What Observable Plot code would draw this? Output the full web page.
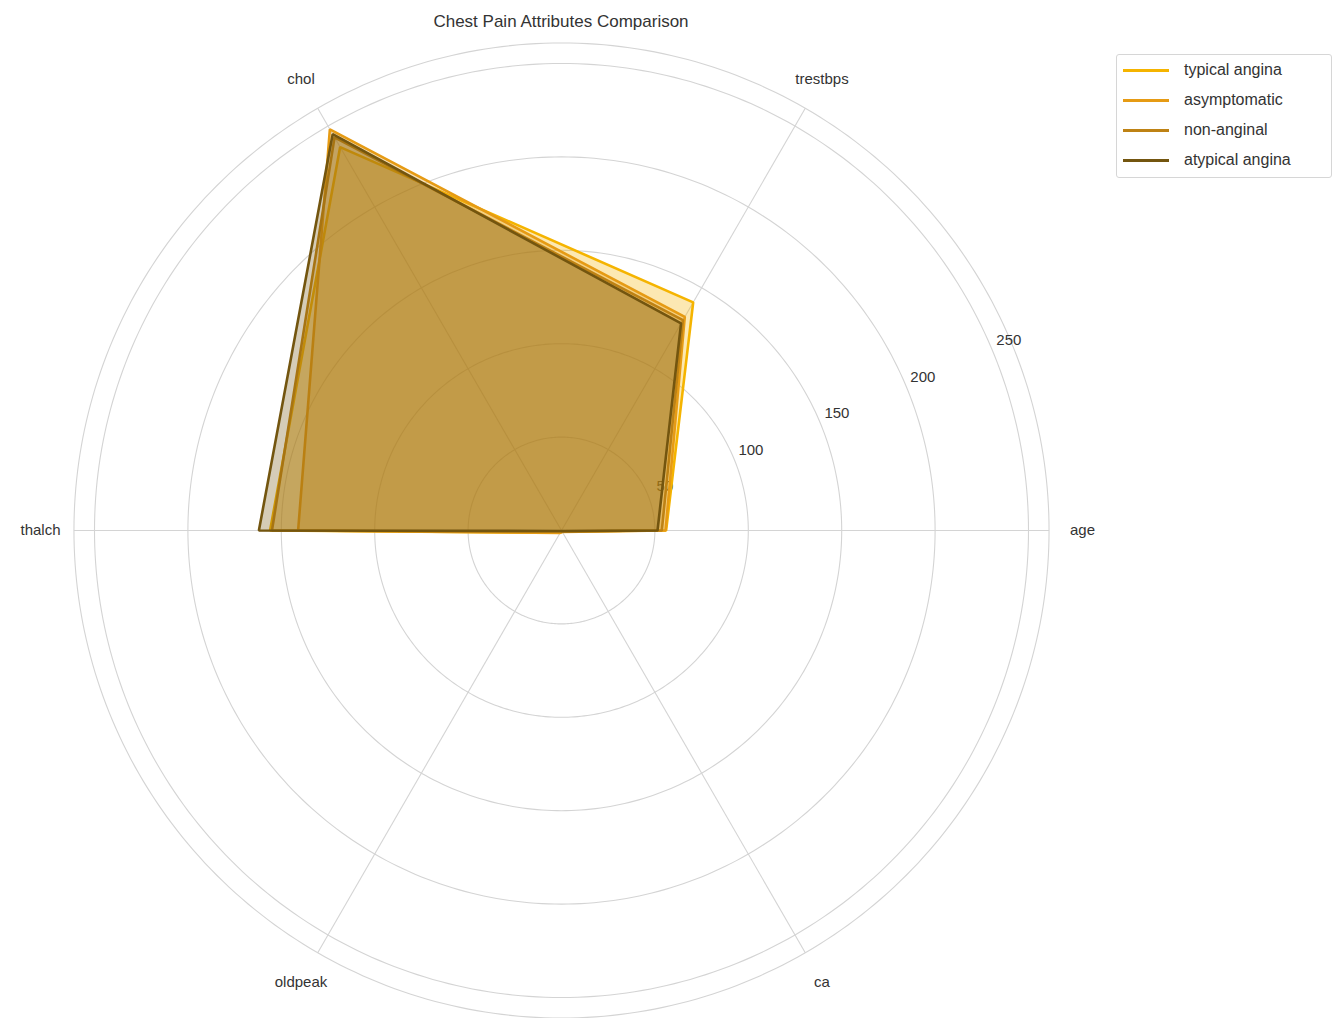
<!DOCTYPE html>
<html>
<head>
<meta charset="utf-8">
<script src="https://cdn.jsdelivr.net/npm/d3@7"></script>
<script src="https://cdn.jsdelivr.net/npm/@observablehq/plot@0.6"></script>
<style>
  html, body { margin: 0; padding: 0; background: #fff; }
  body { width: 1343px; height: 1018px; position: relative; overflow: hidden;
         font-family: "Liberation Sans", Arial, sans-serif; }
  #chart { position: absolute; left: 0; top: 0; }
  #title { position: absolute; left: 0; width: 1122px; top: 12px; text-align: center;
           font-size: 17px; color: #333; }
  #legend { position: absolute; left: 1116px; top: 54px; width: 216px; height: 124px;
            border: 1px solid #d6d6d6; border-radius: 3px; background: #fff; box-sizing: border-box; }
  .item { position: absolute; left: 6px; height: 20px; display: flex; align-items: center; }
  .swatch { width: 46px; height: 3px; margin-right: 15px; }
  .label { font-size: 16px; color: #333; }
</style>
</head>
<body>
<div id="chart"></div>
<div id="title">Chest Pain Attributes Comparison</div>
<div id="legend"></div>
<script>
// ---- data ----
const categories = ["age", "trestbps", "chol", "thalch", "oldpeak", "ca"];
const seriesNames = ["typical angina", "asymptomatic", "non-anginal", "atypical angina"];
const typicalAngina  = [56.0, 141, 237, 156, 1.4, 0.6];
const asymptomatic   = [55.7, 132, 248, 141, 1.5, 0.9];
const nonAnginal     = [53.7, 130, 243, 155, 0.8, 0.5];
const atypicalAngina = [51.4, 128, 245, 162, 0.3, 0.4];
const seriesValues = [typicalAngina, asymptomatic, nonAnginal, atypicalAngina];
const seriesColors = ["#f5b400", "#e69b14", "#be8214", "#73550f"];
const ringTicks = [50, 100, 150, 200, 250];
const rMax = 261;

// ---- geometry ----
const W = 1343, H = 1018, cx = 561, cy = 530;
const k = 1.868; // px per unit
const ang = i => i * Math.PI / 3;

const polyData = [];
seriesNames.forEach((name, s) => {
  categories.forEach((c, i) => {
    const v = seriesValues[s][i];
    polyData.push({series: name, cat: c, x: v * Math.cos(ang(i)), y: v * Math.sin(ang(i))});
  });
});

const ringData = [];
[...ringTicks, rMax].forEach(r => {
  for (let d = 0; d <= 360; d += 1) {
    const a = d * Math.PI / 180;
    ringData.push({ring: r, x: r * Math.cos(a), y: r * Math.sin(a)});
  }
});

const spokes = categories.map((c, i) => ({cat: c, x2: rMax * Math.cos(ang(i)), y2: rMax * Math.sin(ang(i))}));
const labelR = 521 / k;
const catLabels = categories.map((c, i) => ({cat: c, x: labelR * Math.cos(ang(i)), y: labelR * Math.sin(ang(i))}));
const tickA = 23 * Math.PI / 180;
const tickLabels = ringTicks.map(r => ({t: String(r), x: (r + 19 / k) * Math.cos(tickA), y: (r + 19 / k) * Math.sin(tickA)}));

const marks = [
  Plot.line(ringData, {x: "x", y: "y", z: "ring", stroke: "#d4d4d4", strokeWidth: 1.1}),
  Plot.link(spokes, {x1: 0, y1: 0, x2: "x2", y2: "y2", stroke: "#d4d4d4", strokeWidth: 1.1}),
  Plot.text(tickLabels, {x: "x", y: "y", text: "t", fontSize: 15, fill: "#333"}),
  Plot.text(catLabels, {x: "x", y: "y", text: "cat", fontSize: 15, fill: "#333"})
];
seriesNames.forEach((name, s) => {
  const d = polyData.filter(p => p.series === name);
  marks.push(Plot.line(d, {x: "x", y: "y", curve: "linear-closed", fill: seriesColors[s], fillOpacity: 0.3, stroke: "none"}));
  marks.push(Plot.line(d, {x: "x", y: "y", curve: "linear-closed", stroke: seriesColors[s], strokeWidth: 2.6, strokeLinejoin: "miter"}));
});

const chart = Plot.plot({
  width: W, height: H,
  marginTop: 0, marginRight: 0, marginBottom: 0, marginLeft: 0,
  x: {domain: [-cx / k, (W - cx) / k], range: [0, W], axis: null},
  y: {domain: [-(H - cy) / k, cy / k], range: [H, 0], axis: null},
  style: {fontFamily: "'Liberation Sans', Arial, sans-serif", background: "transparent"},
  marks
});
document.getElementById("chart").appendChild(chart);

// legend
const legend = document.getElementById("legend");
seriesNames.forEach((name, s) => {
  const it = document.createElement("div");
  it.className = "item";
  it.style.top = (5 + s * 30) + "px";
  it.innerHTML = `<div class="swatch" style="background:${seriesColors[s]}"></div><span class="label">${name}</span>`;
  legend.appendChild(it);
});
</script>
</body>
</html>
